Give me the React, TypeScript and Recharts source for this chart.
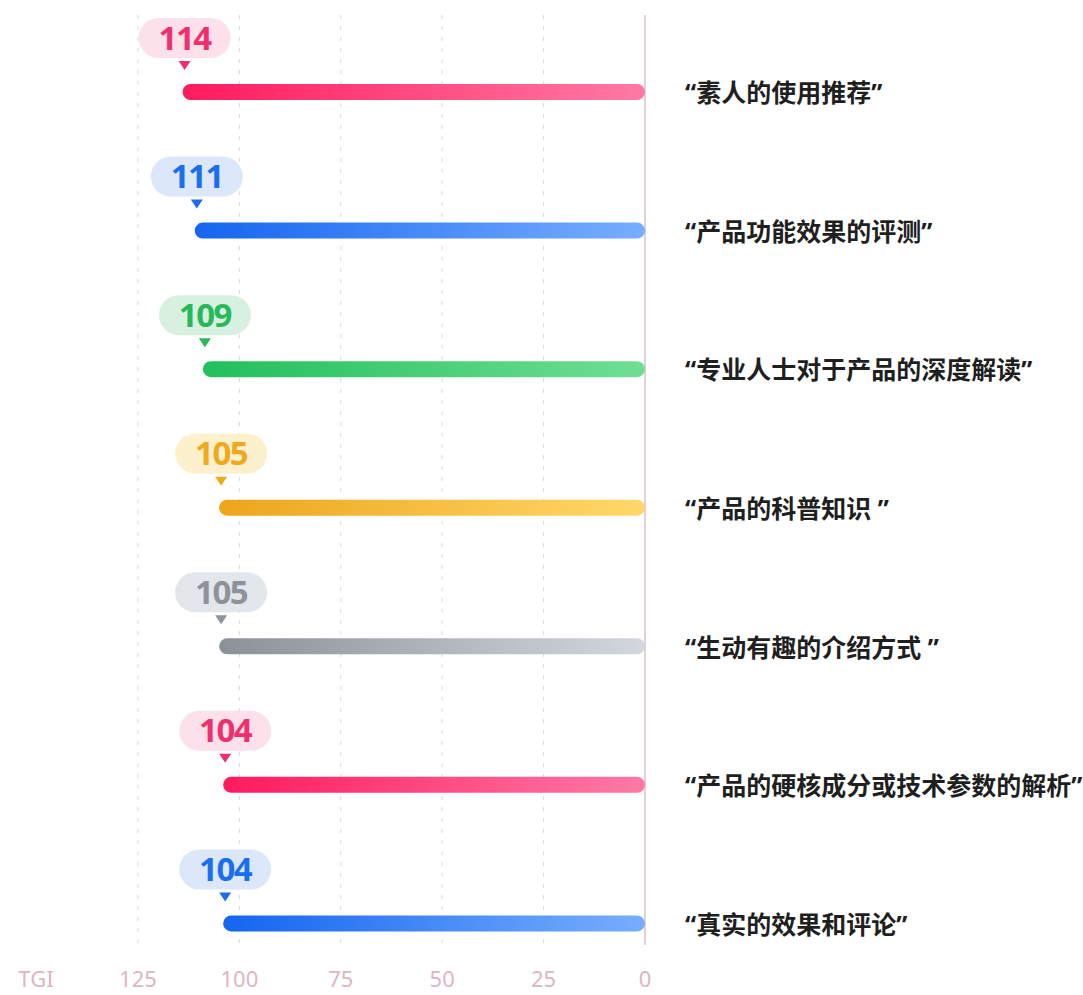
import React from 'react';
import {
  BarChart,
  Bar,
  XAxis,
  YAxis,
  CartesianGrid,
  Cell,
  LabelList
} from 'recharts';

const categories = [
  '“素人的使用推荐”',
  '“产品功能效果的评测”',
  '“专业人士对于产品的深度解读”',
  '“产品的科普知识 ”',
  '“生动有趣的介绍方式 ”',
  '“产品的硬核成分或技术参数的解析”',
  '“真实的效果和评论”'
];

const tgiValues = [114, 111, 109, 105, 105, 104, 104];

const xTicks = [0, 25, 50, 75, 100, 125];

// per-row palette: bar gradient start/end, bubble background, bubble text
const palette = [
  { from: '#ff1a5e', to: '#ff7aa5', bubble: '#fde1ea', text: '#f0306e' },
  { from: '#1565f0', to: '#78aeff', bubble: '#dce8fa', text: '#1a6ff0' },
  { from: '#22bf5c', to: '#70de95', bubble: '#d8f0df', text: '#27b85a' },
  { from: '#eea51c', to: '#ffd86a', bubble: '#fdf0cc', text: '#efa91f' },
  { from: '#8c9097', to: '#d3d7de', bubble: '#e3e6eb', text: '#8e939a' },
  { from: '#ff1a5e', to: '#ff7aa5', bubble: '#fde1ea', text: '#f0306e' },
  { from: '#1565f0', to: '#78aeff', bubble: '#dce8fa', text: '#1a6ff0' }
];

const data = categories.map((name, i) => ({ name, value: tgiValues[i] }));

const GridLine = (props: any) => {
  const { x1, x2, y1, y2, x, width } = props;
  const isZero = x != null && width != null && Math.abs(x1 - (x + width)) < 1;
  if (isZero) {
    return <line key={props.key} x1={x1} x2={x2} y1={y1 - 8} y2={y2 - 48} stroke="#e3cfd6" strokeWidth={2} />;
  }
  return (
    <line
      key={props.key}
      x1={x1}
      x2={x2}
      y1={y1 - 8}
      y2={y2 - 43}
      stroke="#d9d9d9"
      strokeWidth={1}
      strokeDasharray="4 7"
    />
  );
};

const Bubble = (props: any) => {
  const { x, y, width, value, index } = props;
  const c = palette[index];
  const left = Math.min(x, x + width);
  const cx = left + 2;
  const top = y;
  return (
    <g>
      <rect x={cx - 46} y={top - 66} width={92} height={40} rx={20} fill={c.bubble} />
      <polygon points={`${cx - 6},${top - 23} ${cx + 6},${top - 23} ${cx},${top - 14}`} fill={c.text} />
      <text
        x={cx}
        y={top - 47}
        textAnchor="middle"
        dominantBaseline="central"
        fontFamily="'Noto Sans', sans-serif"
        fontWeight={700}
        fontSize={33}
        letterSpacing={-1.5}
        fill={c.text}
      >
        {value}
      </text>
    </g>
  );
};

const CategoryTick = (props: any) => {
  const { x, y, payload } = props;
  return (
    <text
      x={x + 40}
      y={y}
      textAnchor="start"
      dominantBaseline="central"
      fontFamily="'Noto Sans', 'Noto Sans CJK SC', sans-serif"
      fontWeight={700}
      fontSize={25}
      fill="#1f1f1f"
    >
      {payload.value}
    </text>
  );
};

const ValueTick = (props: any) => {
  const { x, y, payload } = props;
  return (
    <text
      x={x}
      y={y - 6}
      textAnchor="middle"
      fontFamily="'Noto Sans', sans-serif"
      fontSize={22}
      fill="#dcb6c3"
    >
      {payload.value}
    </text>
  );
};

const App = () => {
  return (
    <div style={{ position: 'absolute', left: 0, top: 0, width: 1083, height: 995, background: '#fff' }}>
      <BarChart
        width={1083}
        height={995}
        data={data}
        layout="vertical"
        margin={{ top: 23, right: 0, bottom: 0, left: 138 }}
      >
        <defs>
          {palette.map((c, i) => (
            <linearGradient key={i} id={`barGrad${i}`} x1="0" y1="0" x2="1" y2="0">
              <stop offset="0%" stopColor={c.from} />
              <stop offset="100%" stopColor={c.to} />
            </linearGradient>
          ))}
        </defs>
        <CartesianGrid horizontal={false} vertical={GridLine} />
        <XAxis
          type="number"
          domain={[0, 125]}
          ticks={xTicks}
          reversed
          height={2}
          axisLine={false}
          tickLine={false}
          tickSize={0}
          tickMargin={0}
          tick={ValueTick}
          interval={0}
          label={{
            content: (p: any) => (
              <text
                x={p.viewBox.x - 102}
                y={p.viewBox.y - 6}
                textAnchor="middle"
                fontFamily="'Noto Sans', sans-serif"
                fontSize={22}
                fill="#dcb6c3"
              >
                TGI
              </text>
            )
          }}
        />
        <YAxis
          type="category"
          dataKey="name"
          orientation="right"
          width={438}
          axisLine={false}
          tickLine={false}
          tickSize={0}
          tickMargin={0}
          tick={CategoryTick}
          interval={0}
        />
        <Bar dataKey="value" barSize={16} radius={8} isAnimationActive={false}>
          {data.map((_, i) => (
            <Cell key={i} fill={`url(#barGrad${i})`} />
          ))}
          <LabelList dataKey="value" content={Bubble} />
        </Bar>
      </BarChart>
    </div>
  );
};

export default App;
